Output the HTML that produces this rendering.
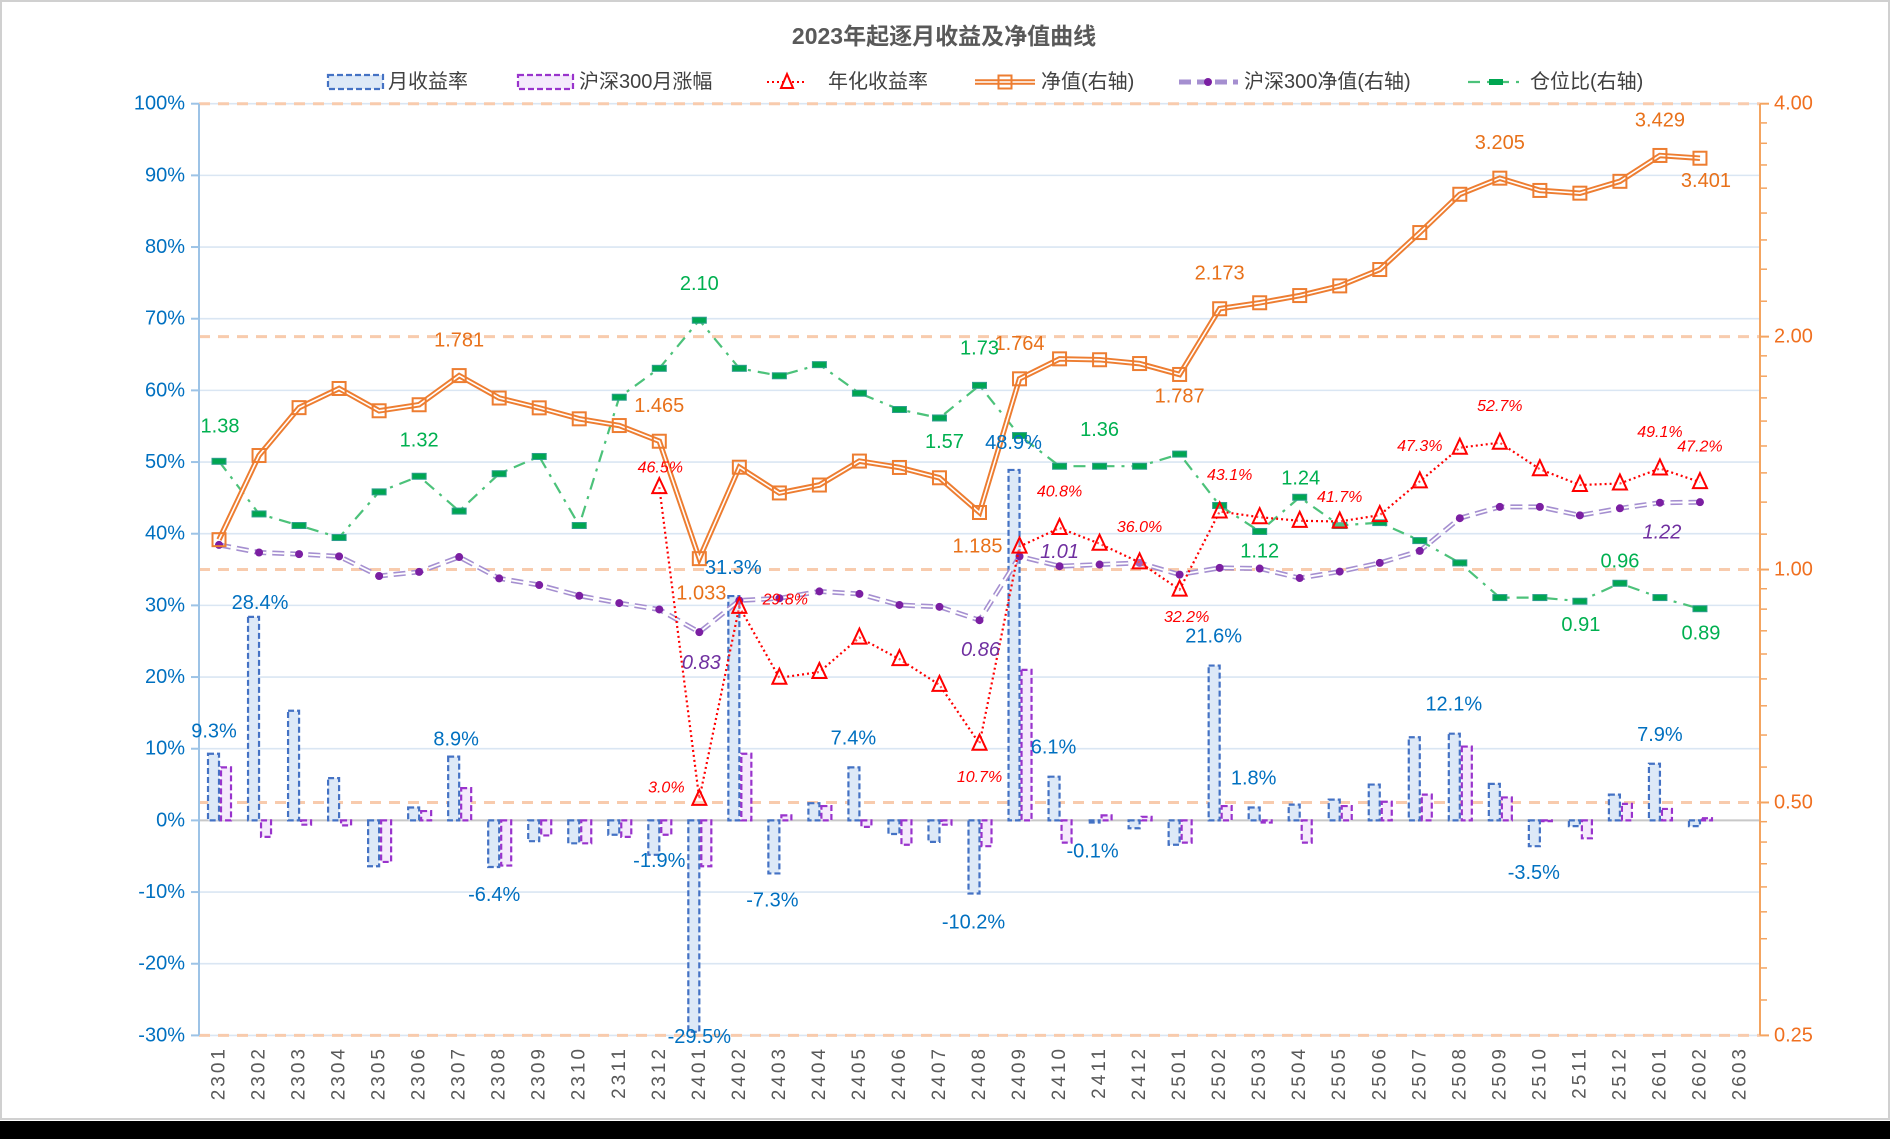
<!DOCTYPE html>
<html><head><meta charset="utf-8">
<style>
html,body{margin:0;padding:0;background:#fff;}
#wrap{position:relative;width:1890px;height:1139px;overflow:hidden;background:#fff;}
svg text{font-family:"Liberation Sans","Noto Sans CJK SC",sans-serif;}
</style></head>
<body>
<div id="wrap">
<svg id="chart" width="1890" height="1139" viewBox="0 0 1890 1139" xmlns="http://www.w3.org/2000/svg">
  <rect x="0" y="0" width="1890" height="1139" fill="#fff"/>
  <rect x="1" y="1" width="1888" height="1118" fill="none" stroke="#d0d0d0" stroke-width="2"/>
  <rect x="0" y="1121" width="1890" height="18" fill="#000"/>
  <text x="944" y="44" text-anchor="middle" font-size="23" font-weight="bold" fill="#595959">2023年起逐月收益及净值曲线</text>
  <g id="grid"></g>
  <g id="axes"></g>
  <g id="bars"></g>
  <g id="lines"></g>
  <g id="labels"></g>
  <g id="legend"></g>
</svg>
</div>
<script>
const categories = ["2301","2302","2303","2304","2305","2306","2307","2308","2309","2310","2311","2312","2401","2402","2403","2404","2405","2406","2407","2408","2409","2410","2411","2412","2501","2502","2503","2504","2505","2506","2507","2508","2509","2510","2511","2512","2601","2602","2603"];
const monthlyReturn = [9.3,28.4,15.3,5.9,-6.4,1.8,8.9,-6.5,-2.9,-3.2,-2.0,-4.8,-29.5,31.3,-7.4,2.4,7.4,-1.9,-3.0,-10.2,48.9,6.1,-0.3,-1.1,-3.4,21.6,1.8,2.2,2.9,5.0,11.6,12.1,5.1,-3.6,-0.8,3.6,7.9,-0.8];
const hs300Return = [7.4,-2.3,-0.6,-0.7,-5.8,1.3,4.5,-6.3,-2.1,-3.2,-2.3,-2.0,-6.4,9.3,0.7,2.0,-0.9,-3.4,-0.6,-3.6,21.0,-3.1,0.7,0.5,-3.1,2.0,-0.3,-3.1,2.0,2.6,3.6,10.3,3.2,-0.1,-2.5,2.3,1.6,0.3];
const annualized = [null,null,null,null,null,null,null,null,null,null,null,46.5,3.0,29.8,19.9,20.7,25.5,22.5,18.9,10.7,38.2,40.8,38.6,36.0,32.2,43.1,42.3,41.8,41.7,42.6,47.3,52.0,52.7,49.0,46.8,47.0,49.1,47.2];
const nav = [1.093,1.404,1.619,1.714,1.604,1.633,1.781,1.666,1.618,1.566,1.535,1.465,1.033,1.356,1.256,1.286,1.381,1.355,1.314,1.185,1.764,1.872,1.867,1.846,1.787,2.173,2.212,2.260,2.326,2.442,2.726,3.055,3.205,3.090,3.065,3.175,3.429,3.401];
const hs300Nav = [1.076,1.052,1.047,1.040,0.981,0.993,1.038,0.974,0.955,0.925,0.905,0.888,0.830,0.912,0.918,0.937,0.930,0.900,0.895,0.860,1.040,1.010,1.015,1.020,0.985,1.005,1.003,0.975,0.994,1.020,1.057,1.165,1.205,1.205,1.175,1.200,1.220,1.222];
const position = [1.38,1.18,1.14,1.10,1.26,1.32,1.19,1.33,1.40,1.14,1.67,1.82,2.10,1.82,1.78,1.84,1.69,1.61,1.57,1.73,1.49,1.36,1.36,1.36,1.41,1.21,1.12,1.24,1.14,1.15,1.09,1.02,0.92,0.92,0.91,0.96,0.92,0.89];
const leftTicks = [-30,-20,-10,0,10,20,30,40,50,60,70,80,90,100];
const rightTicks = [4,2,1,0.5,0.25];
const rightTickLabels = ["4.00","2.00","1.00","0.50","0.25"];
// label specs: [index, text, dx, dy]
const barLabels = [[0,"9.3%",-5,-22],[1,"28.4%",1,-14],[6,"8.9%",-3,-17],[7,"-6.4%",-5,28],[11,"-1.9%",0,6],[12,"-29.5%",0,5],[13,"31.3%",-6,-28],[14,"-7.3%",-7,27],[16,"7.4%",-6,-29],[19,"-10.2%",-6,29],[20,"48.9%",-6,-27],[21,"6.1%",-6,-29],[22,"-0.1%",-7,29],[25,"21.6%",-6,-29],[26,"1.8%",-6,-29],[31,"12.1%",-6,-29],[33,"-3.5%",-6,27],[36,"7.9%",0,-29]];
const navLabels = [[6,"1.781",0,-35],[11,"1.465",0,-35],[12,"1.033",2,35],[19,"1.185",-2,34],[20,"1.764",0,-35],[24,"1.787",0,22],[25,"2.173",0,-35],[32,"3.205",0,-35],[36,"3.429",0,-35],[37,"3.401",6,23]];
const posLabels = [[0,"1.38",1,-35],[5,"1.32",0,-36],[12,"2.10",0,-36],[18,"1.57",5,24],[19,"1.73",0,-37],[22,"1.36",0,-36],[26,"1.12",0,20],[27,"1.24",1,-19],[34,"0.91",1,24],[35,"0.96",0,-22],[37,"0.89",1,25]];
const hsNavLabels = [[12,"0.83",2,31],[19,"0.86",1,30],[21,"1.01",0,-14],[36,"1.22",2,30]];
const annLabels = [[11,"46.5%",1,-19],[12,"3.0%",-33,-11],[13,"29.8%",46,-7],[19,"10.7%",0,34],[21,"40.8%",0,-36],[23,"36.0%",0,-35],[24,"32.2%",7,28],[25,"43.1%",10,-36],[28,"41.7%",0,-24],[30,"47.3%",0,-35],[32,"52.7%",0,-36],[36,"49.1%",0,-36],[37,"47.2%",0,-35]];

const NS="http://www.w3.org/2000/svg";
const X0=199, X1=1760, YT=103.7, YB=1035.4;
const slot=(X1-X0)/categories.length;
function xC(i){return X0+slot*(i+0.5);}
function yL(v){return YT+(100-v)*(YB-YT)/130;}
function yR(v){return YT+Math.log2(4/v)*(YB-YT)/4;}
function mk(tag,attrs,parent){const e=document.createElementNS(NS,tag);for(const k in attrs)e.setAttribute(k,attrs[k]);parent.appendChild(e);return e;}
const G=document.getElementById('grid'),A=document.getElementById('axes'),B=document.getElementById('bars'),L=document.getElementById('lines'),T=document.getElementById('labels'),LG=document.getElementById('legend');

// left gridlines
leftTicks.forEach(v=>{
  const y=yL(v);
  const g=mk('line',{x1:X0,x2:X1,y1:y,y2:y,stroke:v===0?'#c8c8c8':'#dae6f3','stroke-width':v===0?2:1.6},G);
  
  
  const tk=mk('line',{x1:X0-8,x2:X0,y1:y,y2:y,stroke:'#9dc3e6','stroke-width':2},A);
  
  
  const t=mk('text',{x:X0-14,y:y,'text-anchor':'end','dominant-baseline':'central','font-size':20,fill:'#0070c0'},A);
  t.textContent=v+'%';
  
  
});
// right gridlines (dashed)
rightTicks.forEach((v,k)=>{
  const y=yR(v);
  const g=mk('line',{x1:X0,x2:X1,y1:y,y2:y,stroke:'#f8cbad','stroke-width':3,'stroke-dasharray':'11 8'},G);
  
  
  const tk=mk('line',{x1:X1,x2:X1+9,y1:y,y2:y,stroke:'#f4a460','stroke-width':2},A);
  
  
  const t=mk('text',{x:X1+14,y:y,'dominant-baseline':'central','font-size':20,fill:'#f07020'},A);
  t.textContent=rightTickLabels[k];
  
  
});
// right minor ticks
[0.25,0.5,1,2].forEach(b=>{for(let k=1;k<9;k++){const y=yR(b+k*b/9);
  const m=mk('line',{x1:X1,x2:X1+7,y1:y,y2:y,stroke:'#f4a460','stroke-width':1.5},A);
  
  }});
const la=mk('line',{x1:X0,x2:X0,y1:YT,y2:YB,stroke:'#9dc3e6','stroke-width':2},A);


const ra=mk('line',{x1:X1,x2:X1,y1:YT,y2:YB,stroke:'#f4a460','stroke-width':2},A);


// x labels
categories.forEach((c,i)=>{
  const t=mk('text',{x:0,y:0,transform:`translate(${xC(i)},1046) rotate(-90)`,'text-anchor':'end','dominant-baseline':'central','font-size':19,'letter-spacing':'3',fill:'#595959'},A);
  t.textContent=c;
  
  
});
// bars
monthlyReturn.forEach((v,i)=>{
  const y0=yL(0),y=yL(v);
  const r=mk('rect',{x:xC(i)-11,y:Math.min(y,y0),width:11,height:Math.abs(y-y0),fill:'#dde9f7',stroke:'#4472c4','stroke-width':2.2,'stroke-dasharray':'6 3'},B);
  
  
});
hs300Return.forEach((v,i)=>{
  const y0=yL(0),y=yL(v);
  const r=mk('rect',{x:xC(i)+2,y:Math.min(y,y0),width:10,height:Math.abs(y-y0),fill:'#f5eafc',stroke:'#9933cc','stroke-width':2.2,'stroke-dasharray':'6 3'},B);
  
  
});
function pts(arr,fy){return arr.map((v,i)=>v==null?null:[xC(i),fy(v)]).filter(p=>p);}
function pathD(p){return p.map((q,k)=>(k?'L':'M')+q[0].toFixed(1)+','+q[1].toFixed(1)).join(' ');}
// position line
const pP=pts(position,yR);
const pl=mk('path',{d:pathD(pP),fill:'none',stroke:'#4cc27a','stroke-width':2.2,'stroke-dasharray':'12 7 3 7'},L);


pP.forEach(p=>{const m=mk('rect',{x:p[0]-7,y:p[1]-3,width:14,height:6,fill:'#00a651',stroke:'#2e9e8e','stroke-width':1},L);
  
  });
// hs300 nav
const hP=pts(hs300Nav,yR);
const h1=mk('path',{d:pathD(hP),fill:'none',stroke:'#a58fd0','stroke-width':5,'stroke-dasharray':'12 6'},L);


const h2=mk('path',{d:pathD(hP),fill:'none',stroke:'#fff','stroke-width':1.8,'stroke-dasharray':'12 6'},L);


hP.forEach(p=>{const m=mk('circle',{cx:p[0],cy:p[1],r:4,fill:'#7b1fa2'},L);
  
  });
// annualized
const aP=pts(annualized,yL);
const al=mk('path',{d:pathD(aP),fill:'none',stroke:'#ff0000','stroke-width':2.2,'stroke-dasharray':'2 3'},L);


aP.forEach(p=>{const m=mk('path',{d:`M${p[0]},${p[1]-9} L${p[0]+7},${p[1]+6} L${p[0]-7},${p[1]+6} Z`,fill:'#fff','fill-opacity':0.3,stroke:'#ff0000','stroke-width':2},L);
  
  });
// nav
const nP=pts(nav,yR);
const n1=mk('path',{d:pathD(nP),fill:'none',stroke:'#ed7d31','stroke-width':5.5},L);


const n2=mk('path',{d:pathD(nP),fill:'none',stroke:'#fff','stroke-width':1.6},L);


nP.forEach(p=>{const m=mk('rect',{x:p[0]-6.5,y:p[1]-6.5,width:13,height:13,fill:'none',stroke:'#ed7d31','stroke-width':2},L);
  
  });
// labels
function addLabels(spec,vals,fy,color,size,italic,name){
  spec.forEach(s=>{const i=s[0];const v=vals[i];
    const t=mk('text',{x:xC(i)+s[2],y:fy(v)+s[3],'text-anchor':'middle','dominant-baseline':'central','font-size':size,fill:color},T);
    if(italic)t.setAttribute('font-style','italic');
    t.textContent=s[1];
    
    });
}
addLabels(barLabels,monthlyReturn,yL,'#0070c0',20,false,'bar-value-label');
addLabels(navLabels,nav,yR,'#e8711a',20,false,'nav-value-label');
addLabels(posLabels,position,yR,'#00b050',20,false,'position-value-label');
addLabels(hsNavLabels,hs300Nav,yR,'#7030a0',20,true,'hs300-nav-value-label');
addLabels(annLabels,annualized,yL,'#ff0000',16,true,'annualized-value-label');
// legend
const ly=82;
function legText(x,s){const t=mk('text',{x:x,y:ly,'dominant-baseline':'central','font-size':20,fill:'#404040'},LG);t.textContent=s;return t;}
let e;
e=mk('rect',{x:328,y:ly-7,width:55,height:14,fill:'#dde9f7',stroke:'#4472c4','stroke-width':2.2,'stroke-dasharray':'6 3'},LG);


e=legText(388,'月收益率');


e=mk('rect',{x:518,y:ly-7,width:55,height:14,fill:'#f5eafc',stroke:'#9933cc','stroke-width':2.2,'stroke-dasharray':'6 3'},LG);


e=legText(579,'沪深300月涨幅');


e=mk('line',{x1:767,x2:806,y1:ly,y2:ly,stroke:'#ff0000','stroke-width':2,'stroke-dasharray':'2 3'},LG);


e=mk('path',{d:`M787,${ly-8} L793,${ly+6} L781,${ly+6} Z`,fill:'#fff',stroke:'#ff0000','stroke-width':2},LG);


e=legText(828,'年化收益率');


e=mk('line',{x1:975,x2:1035,y1:ly,y2:ly,stroke:'#ed7d31','stroke-width':5.5},LG);


e=mk('line',{x1:975,x2:1035,y1:ly,y2:ly,stroke:'#fff','stroke-width':1.6},LG);


e=mk('rect',{x:998.5,y:ly-6.5,width:13,height:13,fill:'none',stroke:'#ed7d31','stroke-width':2},LG);


e=legText(1041,'净值(右轴)');


e=mk('line',{x1:1179,x2:1238,y1:ly,y2:ly,stroke:'#a58fd0','stroke-width':5,'stroke-dasharray':'12 6'},LG);


e=mk('circle',{cx:1208,cy:ly,r:4,fill:'#7b1fa2'},LG);


e=legText(1244,'沪深300净值(右轴)');


e=mk('line',{x1:1468,x2:1524,y1:ly,y2:ly,stroke:'#4cc27a','stroke-width':2.2,'stroke-dasharray':'12 7 3 7'},LG);


e=mk('rect',{x:1489,y:ly-3,width:14,height:6,fill:'#00a651'},LG);


e=legText(1530,'仓位比(右轴)');


</script>
</body></html>
